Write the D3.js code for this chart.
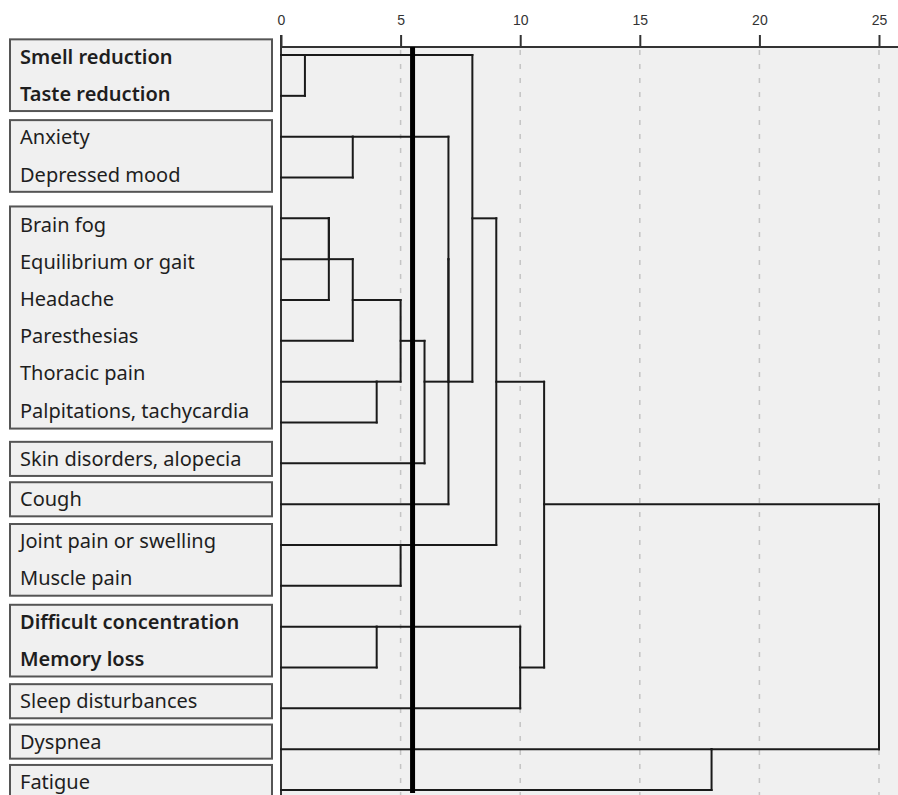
<!DOCTYPE html>
<html>
<head>
<meta charset="utf-8">
<script src="https://cdn.jsdelivr.net/npm/d3@7"></script>
<style>
  html, body { margin: 0; padding: 0; background: #fff; }
  svg { display: block; }
</style>
</head>
<body>
<svg id="chart" width="898" height="795"></svg>
<script>
// ---------------- DATA ----------------
const leaves = [
  "Smell reduction", "Taste reduction",
  "Anxiety", "Depressed mood",
  "Brain fog", "Equilibrium or gait", "Headache", "Paresthesias", "Thoracic pain", "Palpitations, tachycardia",
  "Skin disorders, alopecia",
  "Cough",
  "Joint pain or swelling", "Muscle pain",
  "Difficult concentration", "Memory loss",
  "Sleep disturbances",
  "Dyspnea",
  "Fatigue"
];
// label boxes: number of labels in each box
const boxSizes = [2, 2, 6, 1, 1, 2, 2, 1, 1, 1];
// which boxes are bold
const boldBoxes = [0, 6];
// merges: [child A, child B, rescaled distance]; ids 0..18 = leaves, 19+ = merges in order
const merges = [
  [0, 1, 1],     // 19
  [2, 3, 3],     // 20
  [4, 5, 2],     // 21
  [21, 6, 2],    // 22
  [22, 7, 3],    // 23
  [8, 9, 4],     // 24
  [23, 24, 5],   // 25
  [25, 10, 6],   // 26
  [20, 26, 7],   // 27
  [27, 11, 7],   // 28
  [19, 28, 8],   // 29
  [12, 13, 5],   // 30
  [29, 30, 9],   // 31
  [14, 15, 4],   // 32
  [32, 16, 10],  // 33
  [31, 33, 11],  // 34
  [17, 18, 18],  // 35
  [34, 35, 25]   // 36
];
const tickValues = [0, 5, 10, 15, 20, 25];
const cutValue = 5.5;

// ---------------- LAYOUT ----------------
const W = 898, H = 795;
const plotLeft = 281, axisY = 47;
const svg = d3.select("#chart");

const x = d3.scaleLinear().domain([0, 25]).range([plotLeft, 879]);
const rows = d3.range(leaves.length);
const yRow = d3.scalePoint().domain(rows).range([55, 790]);
// label boxes are centred on (a slightly compressed copy of) their leaves' rows
const yLab = d3.scalePoint().domain(rows).range([55, 782]);

// plot background
svg.append("rect").attr("x", plotLeft).attr("y", axisY).attr("width", W - plotLeft).attr("height", H - axisY)
  .attr("fill", "#f0f0f0");

// dashed grid lines
svg.append("g").selectAll("line").data(tickValues.filter(d => d > 0)).join("line")
  .attr("x1", d => x(d)).attr("x2", d => x(d))
  .attr("y1", axisY + 3).attr("y2", H)
  .attr("stroke", "#c4c4c4").attr("stroke-width", 1.5).attr("stroke-dasharray", "5,9");

// left axis line
svg.append("line").attr("x1", plotLeft).attr("x2", plotLeft).attr("y1", 35).attr("y2", H)
  .attr("stroke", "#333").attr("stroke-width", 2);

// top axis
const axis = d3.axisTop(x).tickValues(tickValues).tickSize(12).tickPadding(10);
const ag = svg.append("g").attr("transform", `translate(0,${axisY})`).call(axis);
ag.select(".domain").remove();
ag.append("line").attr("x1", plotLeft).attr("x2", W).attr("y1", 0).attr("y2", 0)
  .attr("stroke", "#333").attr("stroke-width", 2);
ag.selectAll(".tick line").attr("stroke", "#333").attr("stroke-width", 2);
ag.selectAll(".tick text").attr("fill", "#333")
  .style("font-family", "'Liberation Sans Narrow', 'Liberation Sans', Arial, sans-serif")
  .style("font-size", "14px");

// ---------------- DENDROGRAM ----------------
const nodes = leaves.map((d, i) => ({ id: i, h: 0, row: i }));
merges.forEach(([a, b, h], k) => {
  const na = nodes[a], nb = nodes[b];
  nodes.push({ id: leaves.length + k, h, a: na, b: nb, row: Math.floor((na.row + nb.row) / 2) });
});
const segs = [];
nodes.filter(n => n.a).forEach(n => {
  [n.a, n.b].forEach(c => segs.push({ x1: x(c.h), x2: x(n.h), y1: yRow(c.row), y2: yRow(c.row) }));
  segs.push({ x1: x(n.h), x2: x(n.h), y1: yRow(n.a.row), y2: yRow(n.b.row) });
});
svg.append("g").selectAll("line").data(segs).join("line")
  .attr("x1", d => d.x1).attr("x2", d => d.x2).attr("y1", d => d.y1).attr("y2", d => d.y2)
  .attr("stroke", "#1a1a1a").attr("stroke-width", 2).attr("stroke-linecap", "square");

// cut line
svg.append("line").attr("x1", x(cutValue)).attr("x2", x(cutValue)).attr("y1", axisY).attr("y2", H - 2)
  .attr("stroke", "#000").attr("stroke-width", 5);

// ---------------- LABEL BOXES ----------------
const lineH = 37.2, boxX = 10, boxW = 262;
let idx = 0;
const boxes = boxSizes.map((n, bi) => {
  const members = d3.range(idx, idx + n);
  const center = d3.mean(members, r => yLab(r));
  const h = n * 37.6 - 3.5;
  const b = { center, h, n, start: idx, bold: boldBoxes.includes(bi) };
  idx += n;
  return b;
});
const bg = svg.append("g");
boxes.forEach(b => {
  bg.append("rect").attr("x", boxX).attr("y", b.center - b.h / 2).attr("width", boxW).attr("height", b.h)
    .attr("fill", "#f0f0f0").attr("stroke", "#555").attr("stroke-width", 2);
  for (let i = 0; i < b.n; i++) {
    bg.append("text")
      .attr("x", 20)
      .attr("y", b.center + (i - (b.n - 1) / 2) * lineH)
      .attr("dy", "0.35em")
      .attr("fill", "#1e1e1e")
      .style("font-family", "'Noto Sans', 'Open Sans', sans-serif")
      .style("font-size", "20px")
      .style("font-weight", b.bold ? 600 : 400)
      .text(leaves[b.start + i]);
  }
});
</script>
</body>
</html>
